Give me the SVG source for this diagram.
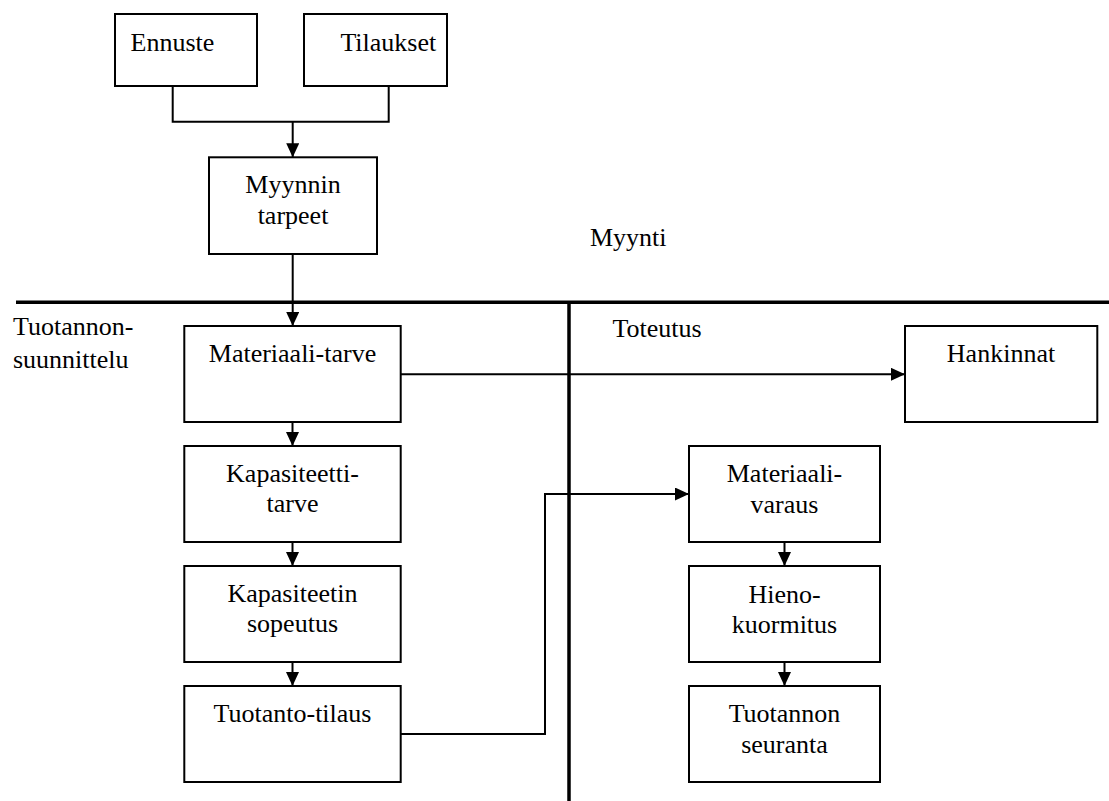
<svg xmlns="http://www.w3.org/2000/svg" width="1109" height="801" viewBox="0 0 1109 801">
<style>
.box{fill:#fff;stroke:#000;stroke-width:2}
.t{font-family:"Liberation Serif","Times New Roman",serif;font-size:26px;fill:#000}
.c{text-anchor:middle}
.con{fill:none;stroke:#000;stroke-width:2}
.thick{fill:none;stroke:#000;stroke-width:3.5}
</style>
<defs>
<marker id="ah" viewBox="0 0 14 13" refX="14" refY="6.5" markerWidth="14" markerHeight="13" orient="auto" markerUnits="userSpaceOnUse">
<path d="M0,0 L14,6.5 L0,13 z" fill="#000"/>
</marker>
</defs>
<rect width="1109" height="801" fill="#fff"/>
<g id="dividers">
<line class="thick" x1="16" y1="302.3" x2="1109" y2="302.3"/>
<line class="thick" x1="569" y1="301" x2="569" y2="801"/>
</g>
<g id="labels">
<text class="t" x="590" y="246">Myynti</text>
<text class="t" x="13" y="335">Tuotannon-</text>
<text class="t" x="13" y="368">suunnittelu</text>
<text class="t" x="612.5" y="336.7">Toteutus</text>
</g>
<g id="connectors">
<path class="con" d="M172.7,86 V121.7 H388.7 V86"/>
<path class="con" d="M292.7,121.7 V157.3" marker-end="url(#ah)"/>
<path class="con" d="M292.7,254 V326" marker-end="url(#ah)"/>
<path class="con" d="M400.7,374.3 H905" marker-end="url(#ah)"/>
<path class="con" d="M292.5,422 V446" marker-end="url(#ah)"/>
<path class="con" d="M292.5,542 V566" marker-end="url(#ah)"/>
<path class="con" d="M292.5,662 V686" marker-end="url(#ah)"/>
<path class="con" d="M400.7,734 H545 V494 H689" marker-end="url(#ah)"/>
<path class="con" d="M784.5,542 V566" marker-end="url(#ah)"/>
<path class="con" d="M784.5,662 V686" marker-end="url(#ah)"/>
</g>
<g id="ennuste">
<rect class="box" x="115" y="14" width="142" height="72"/>
<text class="t c" x="172.5" y="50.7">Ennuste</text>
</g>
<g id="tilaukset">
<rect class="box" x="304" y="14" width="143" height="72"/>
<text class="t c" x="388.3" y="50.7">Tilaukset</text>
</g>
<g id="myynnin-tarpeet">
<rect class="box" x="209" y="157.3" width="168" height="96.7"/>
<text class="t c" x="293" y="193.3">Myynnin</text>
<text class="t c" x="293" y="224">tarpeet</text>
</g>
<g id="materiaali-tarve">
<rect class="box" x="184.3" y="326" width="216.4" height="96"/>
<text class="t c" x="292.5" y="361.7">Materiaali-tarve</text>
</g>
<g id="kapasiteetti-tarve">
<rect class="box" x="184.3" y="446" width="216.4" height="96"/>
<text class="t c" x="292.5" y="481.5">Kapasiteetti-</text>
<text class="t c" x="292.5" y="512">tarve</text>
</g>
<g id="kapasiteetin-sopeutus">
<rect class="box" x="184.3" y="566" width="216.4" height="96"/>
<text class="t c" x="292.5" y="601.7">Kapasiteetin</text>
<text class="t c" x="292.5" y="632">sopeutus</text>
</g>
<g id="tuotanto-tilaus">
<rect class="box" x="184.3" y="686" width="216.4" height="96"/>
<text class="t c" x="292.5" y="721.7">Tuotanto-tilaus</text>
</g>
<g id="hankinnat">
<rect class="box" x="905" y="326" width="192.3" height="96"/>
<text class="t c" x="1001" y="361.7">Hankinnat</text>
</g>
<g id="materiaali-varaus">
<rect class="box" x="689" y="446" width="191" height="96"/>
<text class="t c" x="784.5" y="481.5">Materiaali-</text>
<text class="t c" x="784.5" y="512.5">varaus</text>
</g>
<g id="hienokuormitus">
<rect class="box" x="689" y="566" width="191" height="96"/>
<text class="t c" x="784.5" y="602.5">Hieno-</text>
<text class="t c" x="784.5" y="632.7">kuormitus</text>
</g>
<g id="tuotannon-seuranta">
<rect class="box" x="689" y="686" width="191" height="96"/>
<text class="t c" x="784.5" y="721.7">Tuotannon</text>
<text class="t c" x="784.5" y="752.5">seuranta</text>
</g>
</svg>
